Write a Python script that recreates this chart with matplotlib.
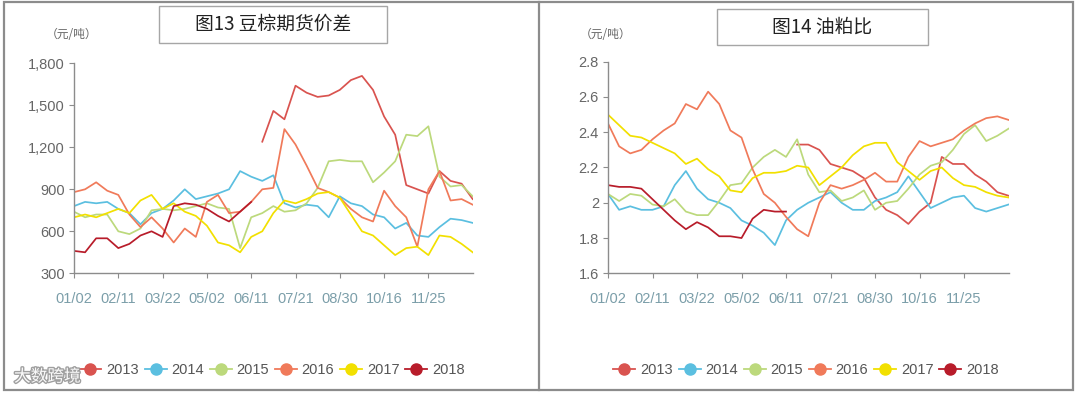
import numpy as np
import matplotlib.pyplot as plt
from matplotlib.patches import Rectangle
from matplotlib.lines import Line2D
import matplotlib.patheffects as pe

# x axis: one unit per date label, values read every quarter unit
tick_labels = ['01/02', '02/11', '03/22', '05/02', '06/11', '07/21', '08/30', '10/16', '11/25']
years = ['2013', '2014', '2015', '2016', '2017', '2018']
colors = ['#d9534f', '#5bbfe0', '#bcd97c', '#f07a5a', '#f2e000', '#b81c2a']

# 图13 豆棕期货价差 (元/吨)
spread_2013 = [1240, 1460, 1400, 1640, 1590, 1560, 1570, 1610, 1680, 1710, 1610, 1420, 1290, 930,
               900, 870, 1030, 960, 940, 830]
spread_2014 = [780, 810, 800, 810, 760, 730, 650, 730, 760, 820, 900, 830, 850, 870, 900, 1030, 990,
               960, 1000, 800, 770, 790, 780, 700, 850, 800, 780, 720, 700, 620, 660, 570, 560, 630,
               690, 680, 660]
spread_2015 = [740, 700, 720, 720, 600, 580, 620, 750, 760, 750, 760, 780, 800, 770, 760, 480, 700,
               730, 780, 740, 750, 800, 910, 1100, 1110, 1100, 1100, 950, 1020, 1100, 1290, 1280,
               1350, 990, 920, 930, 850]
spread_2016 = [880, 900, 950, 890, 860, 720, 630, 700, 620, 520, 620, 560, 810, 860, 730, 740, 810,
               900, 910, 1330, 1220, 1070, 910, 880, 840, 760, 700, 670, 890, 780, 700, 490, 900,
               1030, 820, 830, 790]
spread_2017 = [700, 720, 700, 730, 760, 730, 820, 860, 760, 800, 740, 710, 640, 520, 500, 450, 560,
               600, 730, 820, 800, 830, 870, 880, 840, 720, 600, 570, 500, 430, 480, 490, 430, 570,
               560, 510, 450]
spread_2018 = [460, 450, 550, 550, 480, 510, 570, 600, 560, 780, 800, 790, 760, 710, 670, 740, 810]

# 图14 油粕比
ratio_2013 = [2.33, 2.33, 2.30, 2.22, 2.20, 2.18, 2.14, 2.03, 1.96, 1.93, 1.88, 1.95, 2.00, 2.26,
              2.22, 2.22, 2.16, 2.12, 2.06, 2.04]
ratio_2014 = [2.05, 1.96, 1.98, 1.96, 1.96, 1.98, 2.10, 2.18, 2.08, 2.02, 2.00, 1.97, 1.90, 1.87,
              1.83, 1.76, 1.90, 1.96, 2.00, 2.03, 2.06, 2.00, 1.96, 1.96, 2.01, 2.03, 2.06, 2.15,
              2.06, 1.97, 2.00, 2.03, 2.04, 1.97, 1.95, 1.97, 1.99]
ratio_2015 = [2.05, 2.01, 2.05, 2.04, 1.99, 1.98, 2.02, 1.95, 1.93, 1.93, 2.01, 2.10, 2.11, 2.20,
              2.26, 2.30, 2.26, 2.36, 2.16, 2.06, 2.07, 2.01, 2.03, 2.07, 1.96, 2.00, 2.01, 2.08,
              2.16, 2.21, 2.23, 2.30, 2.39, 2.44, 2.35, 2.38, 2.42]
ratio_2016 = [2.45, 2.32, 2.28, 2.30, 2.36, 2.41, 2.45, 2.56, 2.53, 2.63, 2.56, 2.41, 2.37, 2.19,
              2.05, 2.00, 1.92, 1.85, 1.81, 2.00, 2.10, 2.08, 2.10, 2.13, 2.17, 2.12, 2.12, 2.26,
              2.35, 2.32, 2.34, 2.36, 2.41, 2.45, 2.48, 2.49, 2.47]
ratio_2017 = [2.50, 2.44, 2.38, 2.37, 2.34, 2.31, 2.28, 2.22, 2.25, 2.19, 2.15, 2.07, 2.06, 2.14,
              2.17, 2.17, 2.18, 2.21, 2.20, 2.10, 2.15, 2.20, 2.27, 2.32, 2.34, 2.34, 2.23, 2.18,
              2.13, 2.18, 2.20, 2.14, 2.10, 2.09, 2.06, 2.04, 2.03]
ratio_2018 = [2.10, 2.09, 2.09, 2.08, 2.02, 1.96, 1.90, 1.85, 1.89, 1.86, 1.81, 1.81, 1.80, 1.91,
              1.96, 1.95, 1.95]

W, H = 1080, 396
cjk = ['Noto Sans CJK SC', 'DejaVu Sans']
num_font = ['Liberation Sans Narrow', 'Liberation Sans', 'DejaVu Sans']


def fx(px):
    return px / W


def fy(py):
    return 1 - py / H


def draw_panel(ax, series, yticks, ylabels, ylim):
    x_all = np.arange(37) * 0.25
    for name, vals, c in zip(years, series, colors):
        n = len(vals)
        if name == '2013':
            xs = x_all[37 - n:]
        else:
            xs = x_all[:n]
        ax.plot(xs, vals, color=c, lw=1.25, solid_joinstyle='round')
    ax.set_xlim(0, 9)
    ax.set_ylim(*ylim)
    ax.set_xticks(range(9))
    ax.set_xticklabels(tick_labels, family=num_font, fontsize=10.5, color='#7b9ea9')
    ax.set_yticks(yticks)
    ax.set_yticklabels(ylabels, family=num_font, fontsize=10.5, color='#666666')
    for s in ['top', 'right']:
        ax.spines[s].set_visible(False)
    for s in ['left', 'bottom']:
        ax.spines[s].set_color('#8c8c8c')
        ax.spines[s].set_linewidth(1.0)
    ax.tick_params(axis='x', length=3.5, color='#8c8c8c', pad=10)
    ax.tick_params(axis='y', length=3.5, color='#8c8c8c', pad=3)
    ax.set_facecolor('none')


fig = plt.figure(figsize=(10.8, 3.96), dpi=100)

# outer frame and divider
fig.add_artist(Rectangle((fx(4), fy(390)), fx(1073) - fx(4), fy(2) - fy(390),
                         transform=fig.transFigure, fill=False, ec='#8c8c8c', lw=1.6))
fig.add_artist(Line2D([fx(539), fx(539)], [fy(2), fy(390)], transform=fig.transFigure,
                      color='#8c8c8c', lw=1.6))

ax1 = fig.add_axes([fx(74), fy(273.3), fx(472.7) - fx(74), fy(63.3) - fy(273.3)])
draw_panel(ax1, [spread_2013, spread_2014, spread_2015, spread_2016, spread_2017, spread_2018],
           [300, 600, 900, 1200, 1500, 1800], ['300', '600', '900', '1,200', '1,500', '1,800'],
           (300, 1800))

ax2 = fig.add_axes([fx(608), fy(273.3), fx(1008.5) - fx(608), fy(61.7) - fy(273.3)])
draw_panel(ax2, [ratio_2013, ratio_2014, ratio_2015, ratio_2016, ratio_2017, ratio_2018],
           [1.6, 1.8, 2.0, 2.2, 2.4, 2.6, 2.8], ['1.6', '1.8', '2', '2.2', '2.4', '2.6', '2.8'],
           (1.6, 2.8))

# title boxes
for (x0, y0, x1, y1, title) in [(159, 6, 387, 43, '图13 豆棕期货价差'), (717, 9, 928, 45, '图14 油粕比')]:
    fig.add_artist(Rectangle((fx(x0), fy(y1)), fx(x1) - fx(x0), fy(y0) - fy(y1),
                             transform=fig.transFigure, fill=False, ec='#a6a6a6', lw=1.0))
    fig.text(fx((x0 + x1) / 2), fy((y0 + y1) / 2), title, family=cjk, fontsize=13.5,
             color='#222222', ha='center', va='center')

# unit labels
fig.text(fx(46), fy(34), '（元/吨）', family=cjk, fontsize=8.5, color='#666666', ha='left', va='center')
fig.text(fx(580), fy(34), '（元/吨）', family=cjk, fontsize=8.5, color='#666666', ha='left', va='center')

# legends
handles = [Line2D([], [], color=c, lw=1.3, marker='o', markersize=8, label=y)
           for y, c in zip(years, colors)]
for ax, cx in [(ax1, 272), (ax2, 806)]:
    ax.legend(handles=handles, ncol=6, loc='center', bbox_to_anchor=(fx(cx), fy(370)),
              bbox_transform=fig.transFigure, frameon=False,
              prop={'family': num_font, 'size': 10.5}, labelcolor='#555555',
              handlelength=1.5, handletextpad=0.33, columnspacing=0.4)

# watermark
fig.text(fx(14), fy(377), '大数跨境', family=cjk, fontsize=12, color='white', alpha=0.95,
         ha='left', va='center',
         path_effects=[pe.withStroke(linewidth=2, foreground='#9a9a9a')])

plt.savefig('out.png', dpi=100)
plt.close()
